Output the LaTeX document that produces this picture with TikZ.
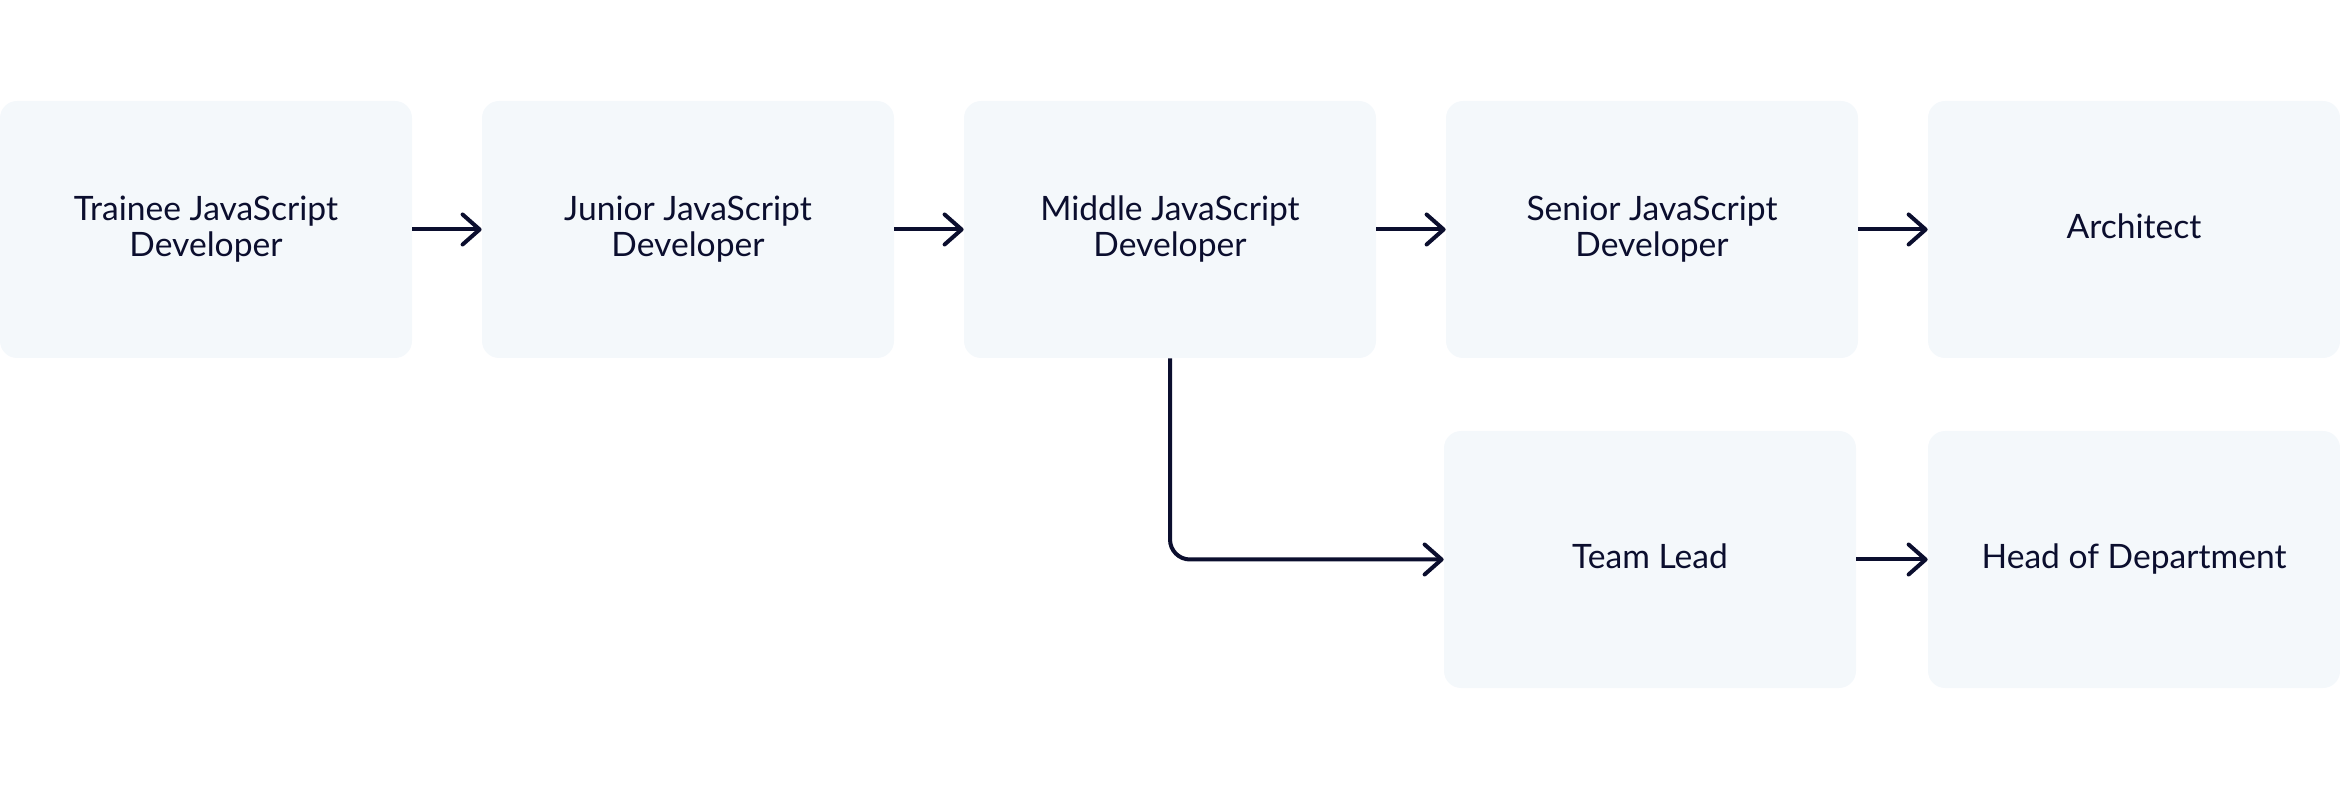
\documentclass[tikz,border=0pt]{standalone}
\usepackage{fontspec}
\setmainfont{Lato}
\usetikzlibrary{arrows.meta}
\definecolor{boxfill}{HTML}{F4F8FB}
\definecolor{ink}{HTML}{0B0E2E}
\begin{document}
\begin{tikzpicture}[x=0.5pt,y=-0.5pt,
  stage/.style={fill=boxfill, draw=none, rounded corners=8.5pt, inner sep=0pt,
    minimum width=206pt, minimum height=128.5pt, text=ink, align=center,
    font=\fontsize{16.8}{18}\selectfont},
  oneline/.style={text height=13pt, text depth=3.6pt},
  conn/.style={draw=ink, line width=2pt,
    -{Straight Barb[length=8.5pt,width=15pt,line cap=round,line join=round]}}]
\useasboundingbox (0,0) rectangle (2340,790);
\node[stage] (b1) at (206,229.5) {Trainee JavaScript\\Developer};
\node[stage] (b2) at (688,229.5) {Junior JavaScript\\Developer};
\node[stage] (b3) at (1170,229.5) {Middle JavaScript\\Developer};
\node[stage] (b4) at (1652,229.5) {Senior JavaScript\\Developer};
\node[stage, oneline] (b5) at (2134,229.5) {Architect};
\node[stage, oneline] (tl) at (1650,559.5) {Team Lead};
\node[stage, oneline] (hd) at (2134,559.5) {Head of Department};
\draw[conn] (b1) -- (b2);
\draw[conn] (b2) -- (b3);
\draw[conn] (b3) -- (b4);
\draw[conn] (b4) -- (b5);
\draw[conn] (tl) -- (hd);
\draw[conn, rounded corners=10pt] (b3.south) |- (tl.west);
\end{tikzpicture}
\end{document}
